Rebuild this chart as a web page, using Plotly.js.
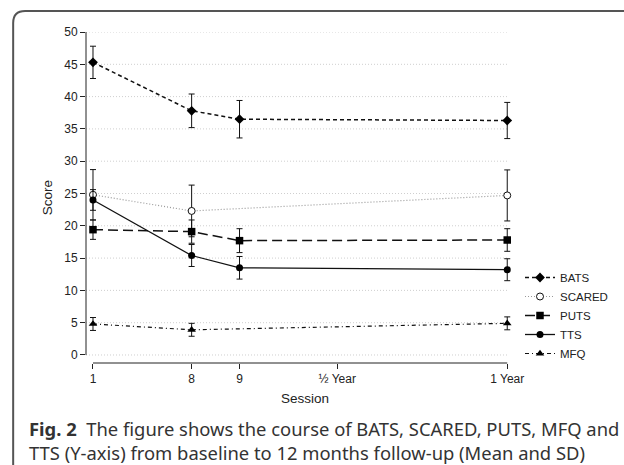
<!DOCTYPE html>
<html>
<head>
<meta charset="utf-8">
<script src="https://cdn.plot.ly/plotly-3.0.1.min.js"></script>
<style>
html,body{margin:0;padding:0;background:#fff;}
#chart{width:624px;height:465px;}
</style>
</head>
<body>
<div id="chart"></div>
<script>
// ---- data ----
const sessionLabels = ['1', '8', '9', '½ Year', '1 Year'];
const sessionPos = [0, 2.06, 3.06, 5.1, 8.65];

const batsSessions = ['1', '8', '9', '1 Year'];
const batsMean = [45.3, 37.8, 36.5, 36.3];
const batsSD = [2.5, 2.6, 2.9, 2.8];

const scaredSessions = ['1', '8', '1 Year'];
const scaredMean = [24.8, 22.3, 24.7];
const scaredSD = [3.9, 4.0, 3.95];

const putsSessions = ['1', '8', '9', '1 Year'];
const putsMean = [19.4, 19.1, 17.7, 17.8];
const putsSD = [1.5, 1.8, 1.85, 1.75];

const ttsSessions = ['1', '8', '9', '1 Year'];
const ttsMean = [24.0, 15.4, 13.5, 13.2];
const ttsSD = [1.6, 1.7, 1.75, 1.7];

const mfqSessions = ['1', '8', '1 Year'];
const mfqMean = [4.8, 3.9, 4.9];
const mfqSD = [1.0, 1.0, 1.0];

const yTicks = [0, 5, 10, 15, 20, 25, 30, 35, 40, 45, 50];

// ---- layout helpers ----
const W = 624, H = 465;
const M = {l: 86, r: 99, t: 32, b: 102};
const PW = W - M.l - M.r, PH = H - M.t - M.b;
const px = x => (x - M.l) / PW;
const py = y => (H - M.b - y) / PH;
const xRange = [-0.146, 9.0];
const yRange = [-1.24, 50];

const pos = s => sessionPos[sessionLabels.indexOf(s)];
const font = '"Liberation Sans", Arial, sans-serif';
const ink = '#222';

function series(name, sessions, mean, sd, line, marker) {
  return {
    type: 'scatter', mode: 'lines+markers', name: name,
    x: sessions.map(pos), y: mean,
    line: line, marker: marker,
    error_y: {type: 'data', array: sd, visible: true, color: '#111', thickness: 1, width: 3},
    cliponaxis: false
  };
}

const traces = [
  series('BATS', batsSessions, batsMean, batsSD,
    {color: '#111', width: 1.5, dash: '4px,3px'},
    {symbol: 'diamond', size: 7.5, color: '#000'}),
  series('SCARED', scaredSessions, scaredMean, scaredSD,
    {color: '#999', width: 1.2, dash: '1px,2px'},
    {symbol: 'circle', size: 7, color: '#fff', line: {color: '#111', width: 1}}),
  series('PUTS', putsSessions, putsMean, putsSD,
    {color: '#111', width: 1.5, dash: '10px,5px'},
    {symbol: 'square', size: 7.5, color: '#000'}),
  series('TTS', ttsSessions, ttsMean, ttsSD,
    {color: '#111', width: 1.3},
    {symbol: 'circle', size: 7, color: '#000'}),
  series('MFQ', mfqSessions, mfqMean, mfqSD,
    {color: '#111', width: 1.2, dash: '4px,3px,1px,3px'},
    {symbol: 'triangle-up', size: 7.5, color: '#000'})
];

const shapes = [];
yTicks.forEach(v => shapes.push({
  type: 'line', xref: 'x', yref: 'y', layer: 'below',
  x0: xRange[0], x1: sessionPos[sessionPos.length - 1], y0: v, y1: v,
  line: {color: '#cfcfcf', width: 1, dash: '1px,2px'}
}));
// y axis line (0..50)
shapes.push({type: 'line', xref: 'paper', yref: 'y', x0: 0, x1: 0, y0: yTicks[0], y1: yTicks[yTicks.length - 1],
  line: {color: ink, width: 1}});
// x axis line (first..last session)
shapes.push({type: 'line', xref: 'x', yref: 'paper', x0: sessionPos[0], x1: sessionPos[sessionPos.length - 1], y0: 0, y1: 0,
  line: {color: ink, width: 1}});
// frame with rounded corner
shapes.push({type: 'path', xref: 'paper', yref: 'paper',
  path: `M ${px(13)},${py(470)} L ${px(13)},${py(23)} Q ${px(13)},${py(11)} ${px(25)},${py(11)} L ${px(640)},${py(11)}`,
  line: {color: '#555', width: 2}});

const layout = {
  width: W, height: H,
  margin: M,
  paper_bgcolor: '#fff', plot_bgcolor: '#fff',
  font: {family: font, size: 12, color: ink},
  showlegend: true,
  legend: {x: px(520), y: py(263), xanchor: 'left', yanchor: 'top',
    bgcolor: 'rgba(0,0,0,0)', font: {family: font, size: 11.5, color: ink}, itemwidth: 30},
  xaxis: {range: xRange, tickvals: sessionPos, ticktext: sessionLabels,
    showgrid: false, zeroline: false, showline: false,
    ticks: 'outside', ticklen: 5, tickcolor: ink, tickwidth: 1,
    tickfont: {family: font, size: 12, color: ink},
    title: {text: 'Session', font: {family: font, size: 13.5, color: ink}, standoff: 8}},
  yaxis: {range: yRange, tickvals: yTicks, showgrid: false, zeroline: false, showline: false,
    ticks: 'outside', ticklen: 5, tickcolor: ink, tickwidth: 1,
    tickfont: {family: font, size: 12, color: ink},
    title: {text: 'Score', font: {family: font, size: 13.5, color: ink}, standoff: 8}},
  shapes: shapes,
  annotations: [{
    xref: 'paper', yref: 'paper', x: px(27), y: py(440), xanchor: 'left', yanchor: 'middle',
    align: 'left', showarrow: false,
    text: '<b>Fig. 2</b>&nbsp;&nbsp;The figure shows the course of BATS, SCARED, PUTS, MFQ and<br>TTS (Y-axis) from baseline to 12 months follow-up (Mean and SD)',
    font: {family: '"Noto Sans", "Open Sans", sans-serif', size: 18.4, color: '#333'}
  }]
};

Plotly.newPlot('chart', traces, layout, {displayModeBar: false, staticPlot: true});
</script>
</body>
</html>
